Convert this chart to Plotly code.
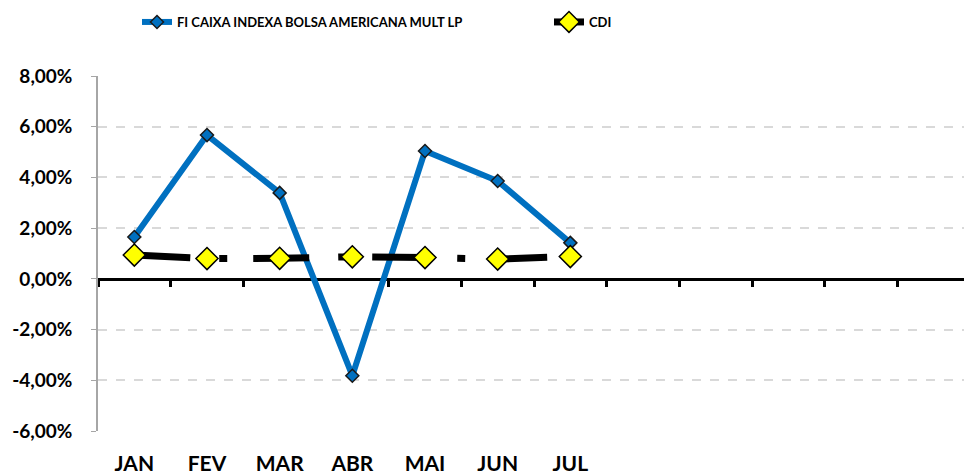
import plotly.graph_objects as go

months = ["JAN", "FEV", "MAR", "ABR", "MAI", "JUN", "JUL", "", "", "", "", ""]
fund_values = [1.65, 5.67, 3.39, -3.82, 5.04, 3.86, 1.42]
cdi_values = [0.94, 0.80, 0.81, 0.87, 0.84, 0.78, 0.88]
y_ticks = [-6, -4, -2, 0, 2, 4, 6, 8]
y_labels = ["-6,00%", "-4,00%", "-2,00%", "0,00%", "2,00%", "4,00%", "6,00%", "8,00%"]

idx = list(range(len(months)))
xf = idx[:len(fund_values)]
xc = idx[:len(cdi_values)]

font_family = "Lato, 'Open Sans', sans-serif"

# the page body has an 8px margin, so the figure is sized 8px smaller
W, H = 964, 467

fig = go.Figure()
# empty trace for the zero-line axis with category-boundary ticks
fig.add_trace(go.Scatter(x=[], y=[], xaxis="x2", showlegend=False, hoverinfo="skip"))

fig.add_trace(go.Scatter(
    x=xf, y=fund_values, name="FI CAIXA INDEXA BOLSA AMERICANA MULT LP",
    mode="lines+markers", legend="legend",
    line=dict(color="#0070C0", width=6),
    marker=dict(symbol="diamond", size=10, color="#0070C0",
                line=dict(color="#1a1a1a", width=1.5)),
))
fig.add_trace(go.Scatter(
    x=xc, y=cdi_values, name="CDI",
    mode="lines+markers", legend="legend2",
    line=dict(color="#000000", width=7, dash="56px,29px,8px,26px"),
    marker=dict(symbol="diamond", size=17, color="#FFFF00",
                line=dict(color="#000000", width=1.5)),
))

legend_font = dict(size=13, family=font_family, weight="bold", color="#000000")
n = len(months)
fig.update_layout(
    width=W, height=H,
    margin=dict(l=90, r=2, t=68, b=44, autoexpand=False),
    paper_bgcolor="white", plot_bgcolor="white",
    font=dict(family=font_family, color="#000000"),
    showlegend=True,
    legend=dict(orientation="h", xref="container", yref="container",
                x=129 / W, xanchor="left", y=1 - 14 / H, yanchor="middle",
                font=legend_font, bgcolor="rgba(0,0,0,0)"),
    legend2=dict(orientation="h", xref="container", yref="container",
                 x=541 / W, xanchor="left", y=1 - 14 / H, yanchor="middle",
                 font=legend_font, bgcolor="rgba(0,0,0,0)"),
    xaxis=dict(
        range=[-0.5, n - 0.5], tickvals=idx, ticktext=months,
        showgrid=False, zeroline=False, showline=False, ticks="",
        tickfont=dict(size=21, family=font_family, weight="bold", color="#000000"),
        ticklabelstandoff=18, automargin=False,
    ),
    xaxis2=dict(
        overlaying="x", anchor="free", position=6 / 14,
        range=[-0.5, n - 0.5], tickvals=[i - 0.5 for i in range(n + 1)],
        showticklabels=False, showgrid=False, zeroline=False,
        showline=True, linecolor="#000000", linewidth=3,
        ticks="outside", ticklen=6, tickwidth=3, tickcolor="#000000",
        layer="below traces", side="bottom", automargin=False,
    ),
    yaxis=dict(
        range=[-6, 8], tickvals=y_ticks, ticktext=y_labels,
        showgrid=True, gridcolor="#d9d9d9", griddash="dash", gridwidth=1.5,
        zeroline=False, showline=True, linecolor="#a6a6a6", linewidth=1.5,
        ticks="outside", ticklen=5, tickcolor="#a6a6a6",
        tickfont=dict(size=19, family=font_family, weight="bold", color="#000000"),
        ticklabelstandoff=15, automargin=False,
    ),
)

fig.write_html("out.html")
